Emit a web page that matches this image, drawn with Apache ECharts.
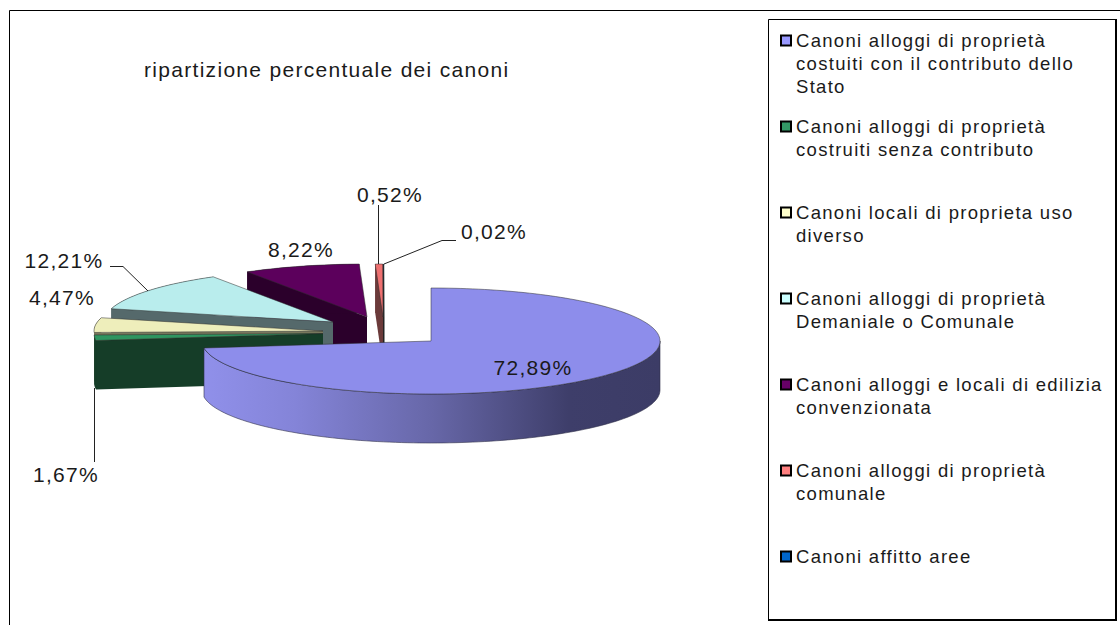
<!DOCTYPE html>
<html>
<head>
<meta charset="utf-8">
<style>html,body{margin:0;padding:0;background:#fff}#c{width:1120px;height:625px}#c text{letter-spacing:1.3px}</style>
<script src="https://cdn.jsdelivr.net/npm/echarts@6/dist/echarts.min.js"></script>
</head>
<body>
<div id="c"></div>
<script>
// ---- data ----
const categories = [
  "Canoni alloggi di proprietà\ncostuiti con il contributo dello\nStato",
  "Canoni alloggi di proprietà\ncostruiti senza contributo\n",
  "Canoni locali di proprieta uso\ndiverso\n",
  "Canoni alloggi di proprietà\nDemaniale o Comunale\n",
  "Canoni alloggi e locali di edilizia\nconvenzionata\n",
  "Canoni alloggi di proprietà\ncomunale\n",
  "Canoni affitto aree\n\n"
];
const percentages = [72.89, 1.67, 4.47, 12.21, 8.22, 0.52, 0.02];
const titleText = "ripartizione percentuale dei canoni";

// ---- styling / layout (not data) ----
const legendColors = ["#9999ff", "#339966", "#ffffcc", "#ccffff", "#660066", "#ff8080", "#0066cc"];
const topColors    = ["#8d8deb", "#2f9560", "#eeeebb", "#b9eded", "#5c005c", "#ee7070", "#0066cc"];
const wallColors   = ["#6565a5", "#153d28", "#77775c", "#55696b", "#2b002b", "#6b3a3a", "#222222"];
const pie = { cx: 431, cy: 341, rx: 229, ry: 53, depth: 49 };
// how far each slice is pulled out of the pie, in pixels
const explode = [[0, 0], [-108, -7.5], [-108, -10], [-98, -19], [-64, -24], [-48, -24], [-47.5, -24]];
// where each value label sits, and its leader line
const labelPos = [[533, 367], [66, 474], [62, 297], [64, 260], [301, 249], [390, 194], [494, 231]];
const leaders = [
  null,
  [[94.5, 388], [94.5, 462]],
  null,
  [[110, 266.5], [123, 266.5], [148, 291]],
  null,
  [[378.5, 205], [378.5, 264]],
  [[384, 264], [442, 240.5], [456, 240.5]]
];
// back-to-front painting order
const paintZ = [7, 6, 5, 4, 3, 2, 1];

const FONT = '"Liberation Sans", Arial, sans-serif';
const total = percentages.reduce((a, b) => a + b, 0);
const startAngle = [];
percentages.reduce((acc, v, i) => { startAngle[i] = acc; return acc + v; }, 0);

function rimPoint(ox, oy, deg, drop) {
  const t = deg * Math.PI / 180;
  return [ox + pie.rx * Math.sin(t), oy - pie.ry * Math.cos(t) + (drop || 0)];
}
function arc(ox, oy, a0, a1, drop) {
  const pts = [];
  const n = Math.max(2, Math.ceil(Math.abs(a1 - a0) / 1.5));
  for (let i = 0; i <= n; i++) pts.push(rimPoint(ox, oy, a0 + (a1 - a0) * i / n, drop));
  return pts;
}
function poly(points, fill, stroke, lw) {
  return { type: 'polygon', shape: { points }, style: { fill, stroke: stroke || null, lineWidth: lw || 0 } };
}

function sliceSeries(i) {
  return {
    type: 'custom',
    name: categories[i],
    coordinateSystem: 'none',
    z: 2 + paintZ[i],
    silent: true,
    itemStyle: { color: legendColors[i] },
    data: [[percentages[i], startAngle[i]]],
    renderItem(params, api) {
      const v = api.value(0), s = api.value(1);
      const a0 = s / total * 360, a1 = (s + v) / total * 360;
      const ox = pie.cx + explode[i][0], oy = pie.cy + explode[i][1];
      const d = pie.depth, kids = [];
      const apex = [ox, oy];
      const p0 = rimPoint(ox, oy, a0), p1 = rimPoint(ox, oy, a1);

      // side walls
      if (i === 0) {
        const front = arc(ox, oy, 90, a1);
        const low = arc(ox, oy, a1, 90, d);
        kids.push(poly(front.concat(low), new echarts.graphic.LinearGradient(0, 0, 1, 0, [
          { offset: 0, color: '#9090ea' }, { offset: 0.2, color: '#8484d8' },
          { offset: 0.5, color: '#6767a8' }, { offset: 0.8, color: '#3e3e6a' }, { offset: 1, color: '#3c3c66' }
        ]), '#30304a', 0.6));
      } else {
        // cut face on the near side of the slice
        kids.push(poly([apex, p0, [p0[0], p0[1] + d], [ox, oy + d]], wallColors[i],
          i === 6 ? wallColors[i] : null, i === 6 ? 2 : 0));
        // outer rim
        const rimA = arc(ox, oy, a0, a1);
        const rimB = arc(ox, oy, a1, a0, d);
        kids.push(poly(rimA.concat(rimB), wallColors[i]));
        if (i === 5) kids.push(poly([apex, p1, [p1[0], p1[1] + d], [ox, oy + d]], wallColors[i]));
      }

      // top surface
      kids.push(poly([apex].concat(arc(ox, oy, a0, a1)), topColors[i], '#2a2a2a', 0.5));

      // leader + label
      if (leaders[i]) {
        kids.push({ type: 'polyline', shape: { points: leaders[i] },
          style: { fill: null, stroke: '#222', lineWidth: 1 } });
      }
      kids.push({
        type: 'text', x: labelPos[i][0], y: labelPos[i][1],
        style: {
          text: v.toFixed(2).replace('.', ',') + '%',
          font: '21px ' + FONT, fill: '#1a1a1a', align: 'center', verticalAlign: 'middle'
        }
      });
      return { type: 'group', children: kids };
    }
  };
}

const series = percentages.map((_, i) => sliceSeries(i));

const chart = echarts.init(document.getElementById('c'), null, { renderer: 'svg' });
chart.setOption({
  animation: false,
  backgroundColor: '#ffffff',
  title: {
    text: titleText, left: 144, padding: 0, top: 59,
    textStyle: { fontFamily: FONT, fontSize: 21, fontWeight: 'normal', color: '#1a1a1a' }
  },
  legend: {
    orient: 'vertical',
    left: 780, top: -17, height: 800, width: 330, padding: 0,
    itemWidth: 10, itemHeight: 10, itemGap: -29,
    icon: 'rect',
    selectedMode: false,
    data: categories,
    formatter: n => "\n\n" + n,
    itemStyle: { borderColor: '#000', borderWidth: 2 },
    textStyle: { fontFamily: FONT, fontSize: 18.5, lineHeight: 23, color: '#1a1a1a' }
  },
  graphic: [
    { type: 'polyline', z: 0, shape: { points: [[9.5, 625], [9.5, 10.5], [1120, 10.5]] },
      style: { fill: null, stroke: '#000', lineWidth: 1 } },
    { type: 'rect', z: 0, shape: { x: 768.5, y: 19.5, width: 347, height: 600 },
      style: { fill: '#fff', stroke: '#000', lineWidth: 1 } },
    { type: 'polyline', z: 0, shape: { points: [[1116, 19], [1116, 620], [768, 620]] },
      style: { fill: null, stroke: '#000', lineWidth: 2 } }
  ],
  series
});
</script>
</body>
</html>
